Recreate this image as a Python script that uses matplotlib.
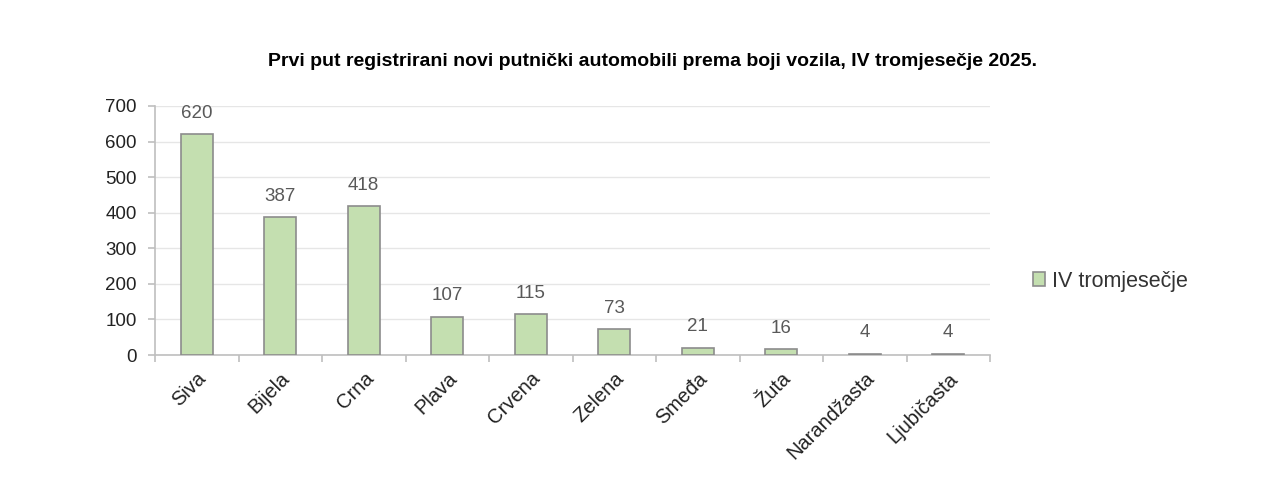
import matplotlib
matplotlib.use("Agg")
import matplotlib.pyplot as plt
import numpy as np

categories = ["Siva", "Bijela", "Crna", "Plava", "Crvena", "Zelena", "Smeđa", "Žuta", "Narandžasta", "Ljubičasta"]
values = [620, 387, 418, 107, 115, 73, 21, 16, 4, 4]
series_name = "IV tromjesečje"
title = "Prvi put registrirani novi putnički automobili prema boji vozila, IV tromjesečje 2025."

plt.rcParams['font.family'] = ['Liberation Sans', 'DejaVu Sans']

fig = plt.figure(figsize=(12.8, 4.83), dpi=100)
ax = fig.add_axes([155/1280, 1 - 355/483, (990-155)/1280, (355-106)/483])

x = np.arange(len(categories))
bars = ax.bar(x, values, width=0.38, color="#c4dfb0", edgecolor="#8c8c8c", linewidth=1.2,
              label=series_name, zorder=3)
for xi, v in zip(x, values):
    ax.annotate(str(v), (xi, v), xytext=(0, 9), textcoords="offset points",
                ha="center", va="bottom", fontsize=13.5, color="#595959")

ax.set_xlim(-0.5, len(categories) - 0.5)
ax.set_ylim(0, 700)
ax.set_yticks(range(0, 701, 100))
ax.yaxis.grid(True, color="#e6e6e6", linewidth=1, zorder=0)
ax.set_axisbelow(True)

for s in ["top", "right"]:
    ax.spines[s].set_visible(False)
for s in ["left", "bottom"]:
    ax.spines[s].set_color("#bfbfbf")
    ax.spines[s].set_linewidth(1.2)

ax.set_xticks(x)
ax.set_xticklabels(categories, rotation=45, ha="right", rotation_mode="anchor",
                   fontsize=14.5, color="#222222")
ax.tick_params(axis="x", length=0, pad=10)
ax.set_xticks(np.arange(-0.5, len(categories), 1), minor=True)
ax.tick_params(axis="x", which="minor", length=5, color="#bfbfbf", width=1.2)
ax.tick_params(axis="y", length=5, color="#bfbfbf", width=1.2, labelsize=13.5,
               labelcolor="#222222", pad=8)

fig.text(652/1280, 1 - 62/483, title, ha="center", va="center", fontsize=14,
         fontweight="bold")

leg = fig.legend(handles=[bars], labels=[series_name], loc="center left",
                 bbox_to_anchor=(1014/1280, 1 - 281/483), frameon=False,
                 fontsize=15.5, handlelength=0.55, handleheight=0.6, handletextpad=0.3,
                 labelcolor="#333333")

fig.savefig("out.png", dpi=100, facecolor="white")
